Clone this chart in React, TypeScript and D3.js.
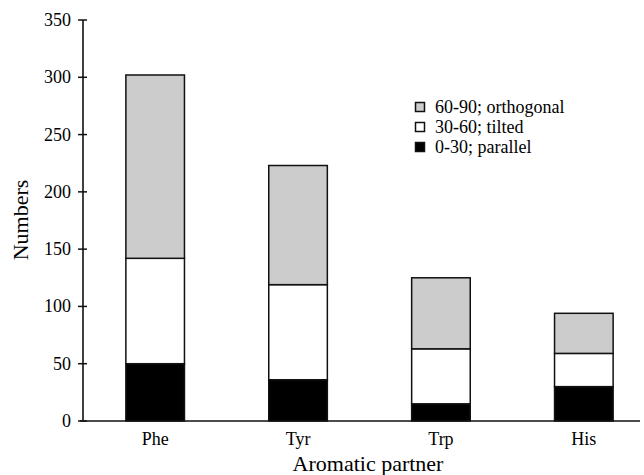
import React, { useEffect, useRef } from 'react';
import * as d3 from 'd3';

const partners = ['Phe', 'Tyr', 'Trp', 'His'];
const parallel = [50, 36, 15, 30];    // 0-30
const tilted = [92, 83, 48, 29];      // 30-60
const orthogonal = [160, 104, 62, 35]; // 60-90
const yTicks = [0, 50, 100, 150, 200, 250, 300, 350];
const seriesNames = ['0-30; parallel', '30-60; tilted', '60-90; orthogonal'];
const seriesColors = ['#000000', '#ffffff', '#cccccc'];

const W = 644, H = 475;
const FONT = "'Liberation Serif', 'DejaVu Serif', serif";

export default function App() {
  const ref = useRef<SVGSVGElement>(null);

  useEffect(() => {
    const svg = d3.select(ref.current);
    svg.selectAll('*').remove();

    const x = d3.scaleBand().domain(partners).range([83, 656]).paddingInner(0.59).paddingOuter(0.3);
    const y = d3.scaleLinear().domain([0, 350]).range([421, 20]);

    const table = partners.map((p, i) => ({
      name: p,
      parallel: parallel[i],
      tilted: tilted[i],
      orthogonal: orthogonal[i],
    }));
    const stack = d3.stack<any>().keys(['parallel', 'tilted', 'orthogonal'])(table);

    // bars
    svg.append('g')
      .selectAll('g')
      .data(stack)
      .enter()
      .append('g')
      .attr('fill', (d, i) => seriesColors[i])
      .selectAll('rect')
      .data(d => d)
      .enter()
      .append('rect')
      .attr('x', d => x(d.data.name)!)
      .attr('y', d => y(d[1]))
      .attr('width', x.bandwidth())
      .attr('height', d => y(d[0]) - y(d[1]))
      .attr('stroke', '#111')
      .attr('stroke-width', 1.5);

    // y axis
    const yAxis = svg.append('g').attr('transform', 'translate(83,0)');
    yAxis.append('line').attr('x1', 0).attr('x2', 0).attr('y1', y(350)).attr('y2', y(0))
      .attr('stroke', '#111').attr('stroke-width', 1.6);
    yAxis.selectAll('line.tick').data(yTicks).enter().append('line')
      .attr('class', 'tick')
      .attr('x1', -5).attr('x2', 4)
      .attr('y1', d => y(d)).attr('y2', d => y(d))
      .attr('stroke', '#111').attr('stroke-width', 1.5);
    yAxis.selectAll('text').data(yTicks).enter().append('text')
      .attr('x', -12).attr('y', d => y(d)).attr('dy', '0.33em')
      .attr('text-anchor', 'end')
      .style('font-family', FONT).style('font-size', '18px')
      .text(d => d);

    // x axis
    svg.append('line').attr('x1', 80).attr('x2', 640).attr('y1', y(0)).attr('y2', y(0))
      .attr('stroke', '#111').attr('stroke-width', 1.6);
    svg.append('g').selectAll('text').data(partners).enter().append('text')
      .attr('x', d => x(d)! + x.bandwidth() / 2).attr('y', 445)
      .attr('text-anchor', 'middle')
      .style('font-family', FONT).style('font-size', '18px')
      .text(d => d);

    // titles
    svg.append('text').attr('x', 368).attr('y', 471).attr('text-anchor', 'middle')
      .style('font-family', FONT).style('font-size', '22px').text('Aromatic partner');
    svg.append('text').attr('transform', 'translate(28,220) rotate(-90)').attr('text-anchor', 'middle')
      .style('font-family', FONT).style('font-size', '22px').text('Numbers');

    // legend
    const legend = svg.append('g').attr('transform', 'translate(415,102)');
    const order = [2, 1, 0];
    order.forEach((s, row) => {
      const g = legend.append('g').attr('transform', `translate(0,${row * 20})`);
      g.append('rect').attr('x', 0.5).attr('y', 0.5).attr('width', 9).attr('height', 9)
        .attr('fill', seriesColors[s]).attr('stroke', '#111').attr('stroke-width', 1.5);
      g.append('text').attr('x', 20).attr('y', 5).attr('dy', '0.35em')
        .style('font-family', FONT).style('font-size', '18px')
        .text(seriesNames[s]);
    });
  }, []);

  return (
    <svg ref={ref} width={W} height={H}
      style={{ position: 'absolute', left: 0, top: 0, background: '#fff' }} />
  );
}
